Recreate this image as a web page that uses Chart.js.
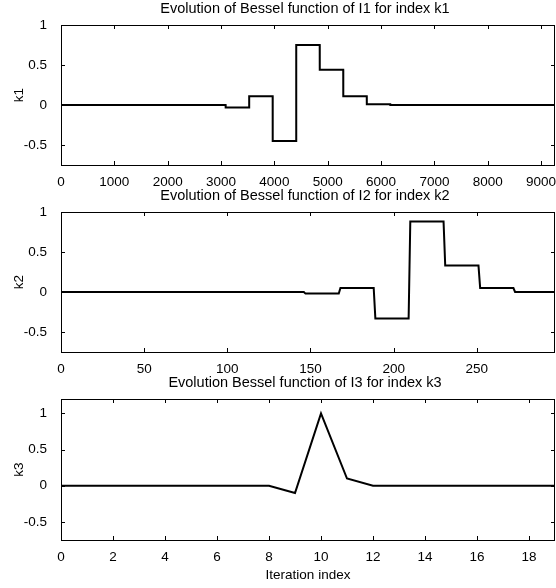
<!DOCTYPE html>
<html>
<head>
<meta charset="utf-8">
<script src="https://cdn.jsdelivr.net/npm/chart.js@4"></script>
<style>
  html, body { margin: 0; padding: 0; background: #fff; }
  #wrap { position: relative; width: 556px; height: 588px; }
  canvas { position: absolute; left: 0; }
</style>
</head>
<body>
<div id="wrap">
  <canvas id="c1" width="556" height="200" style="top:0px"></canvas>
  <canvas id="c2" width="556" height="200" style="top:187px"></canvas>
  <canvas id="c3" width="556" height="214" style="top:374px"></canvas>
</div>
<script>
// --- data ---
// panel 1: signal held constant over blocks of 441 samples
const k1Block = 441;
const k1Levels = [0, 0, 0, 0, 0, 0, 0, -0.03, 0.11, -0.45, 0.75, 0.44, 0.11, 0.01, 0, 0, 0, 0, 0, 0, 0];
const x1Max = 9261;
const x1Ticks = [0, 1000, 2000, 3000, 4000, 5000, 6000, 7000, 8000, 9000];

// panel 2: blocks of 21 samples
const k2Block = 21;
const k2Levels = [0, 0, 0, 0, 0, 0, 0, -0.02, 0.05, -0.33, 0.88, 0.33, 0.05, 0, 0];
const x2Max = 297;
const x2Ticks = [0, 50, 100, 150, 200, 250];

// panel 3: one value per iteration
const k3Index = [0, 1, 2, 3, 4, 5, 6, 7, 8, 9, 10, 11, 12, 13, 14, 15, 16, 17, 18, 19];
const k3Values = [0, 0, 0, 0, 0, 0, 0, 0, 0, -0.1, 1, 0.1, 0, 0, 0, 0, 0, 0, 0, 0];
const x3Max = 19;
const x3Ticks = [0, 2, 4, 6, 8, 10, 12, 14, 16, 18];

const yTicks = [-0.5, 0, 0.5, 1];

const FONT = '"Liberation Sans", Arial, Helvetica, sans-serif';

// turn block levels into sample points (each level spans block samples)
function blockPoints(levels, block) {
  const pts = [];
  levels.forEach((v, i) => {
    pts.push({ x: i * block, y: v });
    pts.push({ x: (i + 1) * block - 1, y: v });
  });
  return pts;
}

// box, inward ticks, title and y label (matlab look)
const framePlugin = {
  id: 'frame',
  afterDraw(chart, args, opts) {
    const { ctx, chartArea: a } = chart;
    const xs = chart.scales.x, ys = chart.scales.y;
    const tl = 4;
    ctx.save();
    ctx.strokeStyle = '#000';
    ctx.lineWidth = 1;
    ctx.beginPath();
    xs.ticks.forEach(t => {
      const px = Math.round(xs.getPixelForValue(t.value)) + 0.5;
      ctx.moveTo(px, a.bottom); ctx.lineTo(px, a.bottom - tl);
      ctx.moveTo(px, a.top); ctx.lineTo(px, a.top + tl);
    });
    ys.ticks.forEach(t => {
      const py = Math.round(ys.getPixelForValue(t.value)) + 0.5;
      ctx.moveTo(a.left, py); ctx.lineTo(a.left + tl, py);
      ctx.moveTo(a.right, py); ctx.lineTo(a.right - tl, py);
    });
    ctx.stroke();
    ctx.strokeRect(Math.round(a.left) + 0.5, Math.round(a.top) + 0.5,
      Math.round(a.right - a.left) - 1, Math.round(a.bottom - a.top));

    ctx.fillStyle = '#000';
    ctx.font = '14.5px ' + FONT;
    ctx.textAlign = 'center';
    ctx.textBaseline = 'alphabetic';
    ctx.fillText(opts.title, (a.left + a.right) / 2 - 3, a.top - 12);

    ctx.font = '13.5px ' + FONT;
    ctx.textBaseline = 'middle';
    ctx.translate(19, (a.top + a.bottom) / 2);
    ctx.rotate(-Math.PI / 2);
    ctx.fillText(opts.yLabel, 0, 0);
    ctx.restore();
  }
};

function panel(id, p) {
  return new Chart(document.getElementById(id), {
    type: 'line',
    data: {
      datasets: [{
        data: p.points,
        borderColor: '#000',
        borderWidth: 2,
        pointRadius: 0,
        tension: 0,
        fill: false
      }]
    },
    options: {
      responsive: false,
      animation: false,
      devicePixelRatio: 1,
      layout: { padding: { top: 25, right: 1, left: 0, bottom: 0 } },
      plugins: {
        legend: { display: false },
        tooltip: { enabled: false },
        frame: { title: p.title, yLabel: p.yLabel }
      },
      scales: {
        x: {
          type: 'linear',
          min: 0,
          max: p.xMax,
          grid: { display: false },
          border: { display: false },
          ticks: {
            color: '#000',
            font: { family: FONT, size: 13.5 },
            padding: 1,
            maxRotation: 0,
            autoSkip: false,
            callback: v => String(v)
          },
          title: p.xTitle ? {
            display: true,
            text: p.xTitle,
            color: '#000',
            font: { family: FONT, size: 13.5 },
            padding: { top: 4, bottom: 5 }
          } : { display: false },
          afterBuildTicks: s => { s.ticks = p.xTicks.map(v => ({ value: v })); },
          afterFit: s => { s.height = p.xAxisH; s.paddingLeft = 0; s.paddingRight = 0; }
        },
        y: {
          min: -0.75,
          max: p.yMax,
          grid: { display: false },
          border: { display: false },
          ticks: {
            color: '#000',
            font: { family: FONT, size: 13.5 },
            padding: 6,
            callback: v => String(v)
          },
          afterBuildTicks: s => { s.ticks = yTicks.map(v => ({ value: v })); },
          afterFit: s => { s.width = 61; s.paddingTop = 0; s.paddingBottom = 0; }
        }
      }
    },
    plugins: [framePlugin]
  });
}

panel('c1', {
  points: blockPoints(k1Levels, k1Block),
  xMax: x1Max, xTicks: x1Ticks, yMax: 1, xAxisH: 35,
  title: 'Evolution of Bessel function of I1 for index k1', yLabel: 'k1'
});

panel('c2', {
  points: blockPoints(k2Levels, k2Block),
  xMax: x2Max, xTicks: x2Ticks, yMax: 1, xAxisH: 35,
  title: 'Evolution of Bessel function of I2 for index k2', yLabel: 'k2'
});

panel('c3', {
  points: k3Index.map((x, i) => ({ x: x, y: k3Values[i] })),
  xMax: x3Max, xTicks: x3Ticks, yMax: 1.2, xAxisH: 48,
  title: 'Evolution Bessel function of I3 for index k3', yLabel: 'k3',
  xTitle: 'Iteration index'
});
</script>
</body>
</html>
